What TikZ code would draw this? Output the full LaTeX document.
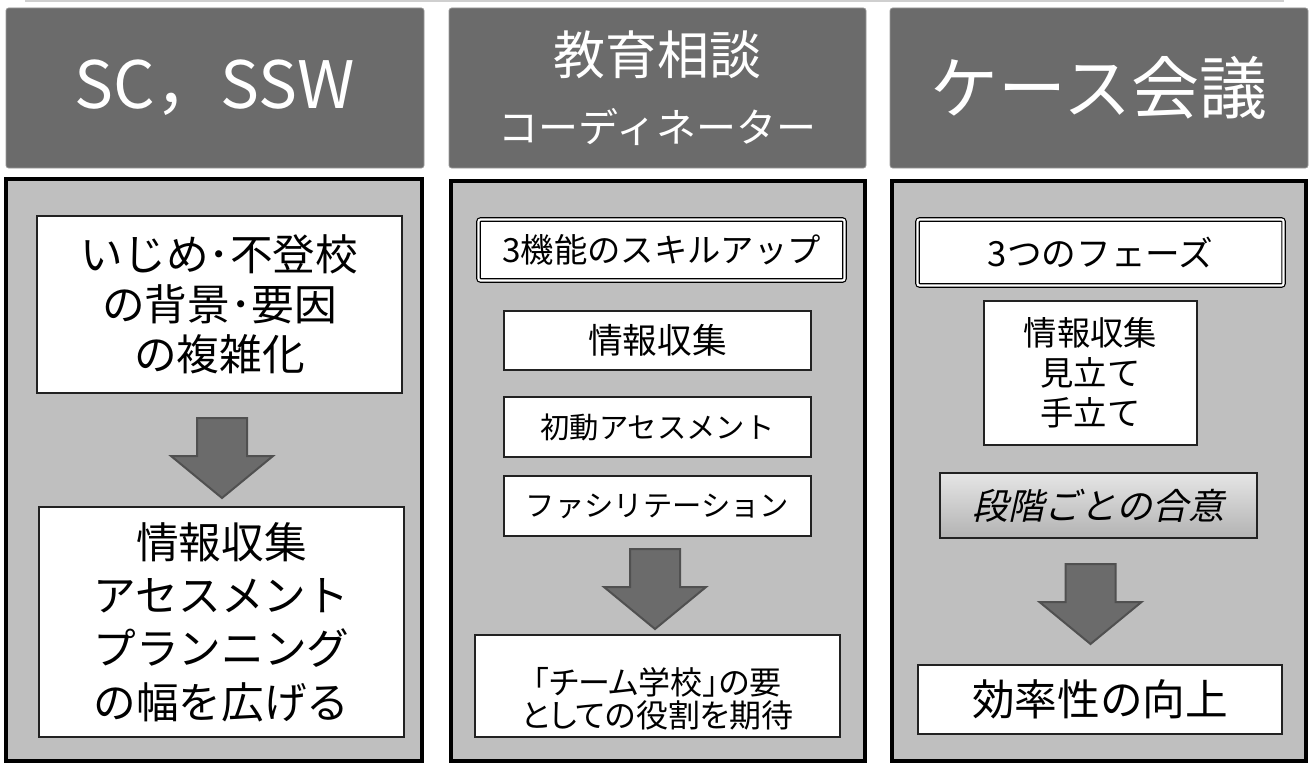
\documentclass[tikz,border=0pt]{standalone}
\usepackage{fontspec}
\setmainfont{Noto Sans CJK JP}
\newfontfamily\slantjp[FakeSlant=0.22]{Noto Sans CJK JP}
\newfontfamily\paltjp[RawFeature=+palt]{Noto Sans CJK JP}
\definecolor{hdrgray}{HTML}{6B6B6B}
\definecolor{hdrborder}{HTML}{9A9A9A}
\definecolor{panelgray}{HTML}{BFBFBF}
\definecolor{boxline}{HTML}{222222}
\definecolor{arrowline}{HTML}{505050}
\definecolor{topline}{HTML}{CFCFCF}
\tikzset{
  area/.style n args={4}{minimum width={(#3-#1)*0.75pt}, minimum height={(#4-#2)*0.75pt}, at={({(#1+#3)/2},{(#2+#4)/2})}},
  hdr/.style={draw=hdrborder, fill=hdrgray, rounded corners=2pt, line width=0.6pt, inner sep=0pt, text=white, align=center},
  panel/.style={draw=black, fill=panelgray, line width=2.3pt, inner sep=0pt},
  wbox/.style={draw=boxline, fill=white, line width=0.9pt, inner sep=0pt, align=center},
  dbox/.style={draw=black, double=white, double distance=1.6pt, line width=0.9pt, fill=white, rounded corners=1.5pt, inner sep=0pt, align=center},
  gbox/.style={draw=boxline, line width=0.9pt, inner sep=0pt, align=center, top color=black!10, middle color=white, bottom color=black!30},
  plain/.style={inner sep=0pt, align=center},
  blockarrow/.style={fill=hdrgray, draw=arrowline, line width=1.5pt, line join=miter},
  downarrow/.pic={\draw[blockarrow] (-25,0) -- (25,0) -- (25,38) -- (51,38) -- (0,80) -- (-51,38) -- (-25,38) -- cycle;}
}
\begin{document}
\begin{tikzpicture}[x=0.75pt,y=-0.75pt]
\useasboundingbox (0,0) rectangle (1312,763);
\draw[topline, line width=1.5pt] (25,0.8) -- (1284,0.8);

% headers
\node[hdr, area={6}{8}{424}{168}, font=\fontsize{49pt}{56pt}\selectfont] (h1) {SC，SSW};
\node[hdr, area={449}{8}{866}{168}, font=\fontsize{39pt}{51pt}\selectfont] (h2) {教育相談\\\fontsize{30pt}{51pt}\selectfont コーディネーター};
\node[hdr, area={890}{8}{1308}{168}, font=\fontsize{51pt}{60pt}\selectfont] (h3) {ケース会議};

% panels
\node[panel, area={6}{179}{422}{761}] (p1) {};
\node[panel, area={451}{181}{865}{761}] (p2) {};
\node[panel, area={892}{181}{1306}{761}] (p3) {};

% left column
\node[wbox, area={37}{216}{402}{393}, font=\fontsize{32pt}{37.5pt}\selectfont] (l1) {いじめ･不登校\\の背景･要因\\の複雑化};
\pic at (222,418) {downarrow};
\node[wbox, area={39}{507}{404}{737}, font=\fontsize{32pt}{40pt}\selectfont] (l2) {情報収集\\アセスメント\\プランニング\\の幅を広げる};

% middle column
\node[dbox, area={478.5}{219.5}{844.5}{280.5}, font=\fontsize{25pt}{30pt}\selectfont] (m0) {3機能のスキルアップ};
\node[wbox, area={504}{311}{811}{370}, font=\fontsize{26pt}{30pt}\selectfont] (m1) {情報収集};
\node[wbox, area={504}{397}{811}{457}, font=\fontsize{22pt}{28pt}\selectfont] (m2) {初動アセスメント};
\node[wbox, area={504}{476}{811}{536}, font=\fontsize{22pt}{28pt}\selectfont] (m3) {ファシリテーション};
\pic at (655,549) {downarrow};
\node[wbox, area={475}{635}{840}{737}] (m4) {};
\node[plain, font=\fontsize{24pt}{25pt}\paltjp] (m4t) at (657.5,699) {「チーム学校」の要\\としての役割を期待};

% right column
\node[dbox, area={917.5}{219.5}{1283.5}{285.5}, font=\fontsize{26pt}{30pt}\selectfont] (r0) {3つのフェーズ};
\node[wbox, area={984}{301}{1197}{445}, font=\fontsize{25pt}{30pt}\selectfont] (r1) {情報収集\\見立て\\手立て};
\node[gbox, area={940}{473}{1257}{538}, font=\fontsize{27pt}{32pt}\slantjp] (r2) {段階ごとの合意};
\pic at (1090.5,564) {downarrow};
\node[wbox, area={918}{665}{1282}{734}, font=\fontsize{32pt}{38pt}\selectfont] (r3) {効率性の向上};
\end{tikzpicture}
\end{document}
